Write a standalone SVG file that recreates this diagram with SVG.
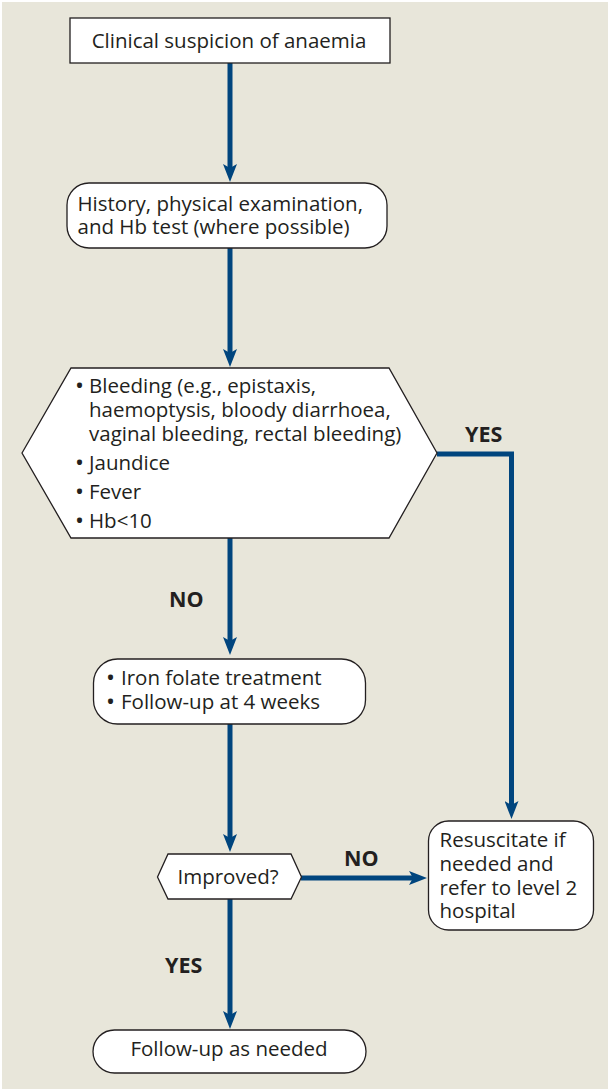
<svg xmlns="http://www.w3.org/2000/svg" width="608" height="1089" viewBox="0 0 608 1089">
<defs>
<style>
.bg{fill:#E8E6DA}
.box{fill:#FFFFFF;stroke:#231F20;stroke-width:1.3}
.t{font-family:"Open Sans","Noto Sans",sans-serif;font-size:20.5px;fill:#231F20}
.b{font-size:24px}
.lbl{font-family:"Open Sans","Noto Sans",sans-serif;font-size:21.5px;font-weight:bold;fill:#231F20}
.c{fill:none;stroke:#00457E;stroke-width:5}
</style>
<marker id="ah" viewBox="0 0 18 14" refX="6" refY="7" markerWidth="18" markerHeight="14" markerUnits="userSpaceOnUse" orient="auto">
<path d="M0,0 L18,7 L0,14 L4,7 Z" fill="#00457E"/>
</marker>
</defs>
<rect class="bg" x="2" y="2" width="606" height="1087"/>
<g id="connectors">
<line class="c" x1="230" y1="63" x2="230" y2="170" marker-end="url(#ah)"/>
<line class="c" x1="230" y1="248" x2="230" y2="355" marker-end="url(#ah)"/>
<line class="c" x1="230" y1="538" x2="230" y2="643" marker-end="url(#ah)"/>
<line class="c" x1="230" y1="724" x2="230" y2="840" marker-end="url(#ah)"/>
<line class="c" x1="230" y1="899" x2="230" y2="1017" marker-end="url(#ah)"/>
<path class="c" d="M437,454 H511.5 V807" marker-end="url(#ah)"/>
<line class="c" x1="301" y1="878" x2="415" y2="878" marker-end="url(#ah)"/>
<text class="lbl" x="465" y="442">YES</text>
<text class="lbl" x="169" y="607">NO</text>
<text class="lbl" x="344" y="866">NO</text>
<text class="lbl" x="165" y="973">YES</text>
</g>
<g id="n1">
<rect class="box" x="70" y="18" width="320" height="45"/>
<text class="t" x="229" y="48" text-anchor="middle">Clinical suspicion of anaemia</text>
</g>
<g id="n2">
<rect class="box" x="67" y="183" width="320" height="65" rx="22"/>
<text class="t"><tspan x="77.5" y="211">History, physical examination,</tspan><tspan x="77.5" y="234">and Hb test (where possible)</tspan></text>
</g>
<g id="n3">
<polygon class="box" points="22,453 71,368 389,368 437,453 389,538 71,538"/>
<text class="t"><tspan class="b" x="75" y="394">•</tspan><tspan x="89" y="393">Bleeding (e.g., epistaxis,</tspan><tspan x="89" y="417">haemoptysis, bloody diarrhoea,</tspan><tspan x="89" y="441">vaginal bleeding, rectal bleeding)</tspan><tspan class="b" x="75" y="471">•</tspan><tspan x="89" y="470">Jaundice</tspan><tspan class="b" x="75" y="500">•</tspan><tspan x="89" y="499">Fever</tspan><tspan class="b" x="75" y="529">•</tspan><tspan x="89" y="528">Hb&lt;10</tspan></text>
</g>
<g id="n4">
<rect class="box" x="93.5" y="659" width="272" height="65" rx="24"/>
<text class="t"><tspan class="b" x="106" y="686">•</tspan><tspan x="121" y="685">Iron folate treatment</tspan><tspan class="b" x="106" y="710">•</tspan><tspan x="121" y="709">Follow-up at 4 weeks</tspan></text>
</g>
<g id="n5">
<polygon class="box" points="157.5,877 168,854 291,854 301.5,877 291,899 168,899"/>
<text class="t" x="228" y="884" text-anchor="middle">Improved?</text>
</g>
<g id="n6">
<rect class="box" x="428.5" y="821" width="165" height="109" rx="20"/>
<text class="t"><tspan x="439.5" y="847">Resuscitate if</tspan><tspan x="439.5" y="871">needed and</tspan><tspan x="439.5" y="895">refer to level 2</tspan><tspan x="439.5" y="918">hospital</tspan></text>
</g>
<g id="n7">
<rect class="box" x="93" y="1030" width="273" height="43" rx="21.5"/>
<text class="t" x="229" y="1056" text-anchor="middle">Follow-up as needed</text>
</g>
</svg>
